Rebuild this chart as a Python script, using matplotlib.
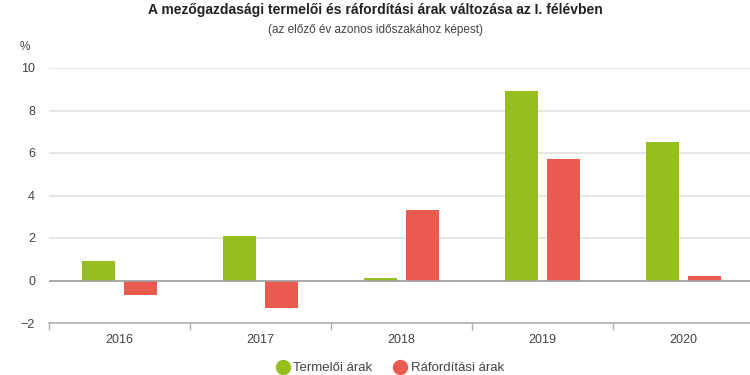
import matplotlib
matplotlib.use("Agg")
import matplotlib.pyplot as plt
from matplotlib.lines import Line2D
import numpy as np

plt.rcParams['font.family'] = ['Liberation Sans', 'DejaVu Sans']

years = ['2016', '2017', '2018', '2019', '2020']
termeloi = [0.9, 2.1, 0.1, 8.9, 6.5]
raforditasi = [-0.7, -1.3, 3.3, 5.7, 0.2]
yticks = [-2, 0, 2, 4, 6, 8, 10]
series_names = ['Termelői árak', 'Ráfordítási árak']

green = '#96bf1e'
red = '#ea5a4f'
grid_c = '#e3e3e3'
text_c = '#444444'

W, H = 750, 375
fig = plt.figure(figsize=(7.5, 3.75), dpi=100)
ax = fig.add_axes([49 / W, 1 - 323 / H, (754.5 - 49.5) / W, (323 - 68) / H])

x = np.arange(len(years))
bw = 0.235
ax.bar(x - 0.152, termeloi, bw, color=green, zorder=3)
ax.bar(x + 0.152, raforditasi, bw, color=red, zorder=3)

ax.set_xlim(-0.5, len(years) - 0.5)
ax.set_ylim(-2, 10)
ax.set_yticks(yticks)
ax.set_yticklabels([str(v).replace('-', '\u2212') for v in yticks])
ax.yaxis.grid(True, color=grid_c, linewidth=1.2, zorder=0)
ax.axhline(0, color='#a0a0a0', linewidth=1.2, zorder=4)
for s in ['top', 'right', 'left']:
    ax.spines[s].set_visible(False)
ax.spines['bottom'].set_color('#b0b0b0')
ax.spines['bottom'].set_linewidth(1.2)
ax.tick_params(axis='y', length=0, pad=10, labelsize=9, labelcolor=text_c)
ax.set_xticks(x)
ax.set_xticklabels(years)
ax.tick_params(axis='x', length=0, pad=8, labelsize=9, labelcolor=text_c)
ax.set_xticks(np.arange(-0.5, len(years)), minor=True)
ax.tick_params(axis='x', which='minor', length=5, color='#b0b0b0', width=1)

fig.text(0.5, 1 - 10 / H, 'A mezőgazdasági termelői és ráfordítási árak változása az I. félévben',
         ha='center', va='center', fontsize=10, fontweight='bold', color='#222222')
fig.text(0.5, 1 - 30 / H, '(az előző év azonos időszakához képest)',
         ha='center', va='center', fontsize=8.5, color=text_c)
fig.text(25 / W, 1 - 47 / H, '%', ha='center', va='center', fontsize=8.5, color=text_c)

handles = [Line2D([0], [0], marker='o', linestyle='', markersize=10, markerfacecolor=green, markeredgecolor=green),
           Line2D([0], [0], marker='o', linestyle='', markersize=10, markerfacecolor=red, markeredgecolor=red)]
fig.legend(handles, series_names, loc='center', bbox_to_anchor=(0.52, 1 - 368 / H), ncol=2,
           frameon=False, fontsize=9.5, handletextpad=0.3, columnspacing=1.6, labelcolor=text_c,
           handlelength=1.0)

fig.savefig('out.png', dpi=100)
